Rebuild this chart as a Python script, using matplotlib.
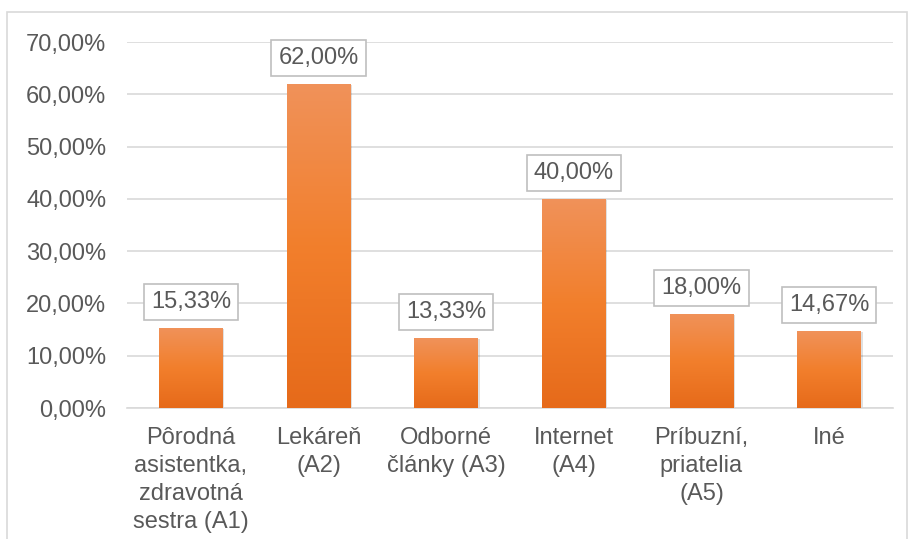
import matplotlib.pyplot as plt
import numpy as np
from matplotlib.colors import LinearSegmentedColormap
from matplotlib.patches import Rectangle

plt.rcParams['font.family'] = ['Liberation Sans', 'DejaVu Sans']

categories = ['Pôrodná\nasistentka,\nzdravotná\nsestra (A1)', 'Lekáreň\n(A2)',
              'Odborné\nčlánky (A3)', 'Internet\n(A4)', 'Príbuzní,\npriatelia\n(A5)', 'Iné']
values = [15.33, 62.00, 13.33, 40.00, 18.00, 14.67]
labels = ['15,33%', '62,00%', '13,33%', '40,00%', '18,00%', '14,67%']
yticks = [0, 10, 20, 30, 40, 50, 60, 70]

text_col = '#595959'
grad = LinearSegmentedColormap.from_list('g', ['#E66A1A', '#F27F2C', '#F0925A'])

fig = plt.figure(figsize=(9.09, 5.39), dpi=100)
ax = fig.add_axes([127 / 909, 1 - 408 / 539, (893 - 127) / 909, (408 - 42) / 539])

# outer chart frame
fig.add_artist(Rectangle((7 / 909, -0.01), 0.99, 1 - 12 / 539 + 0.01,
                         transform=fig.transFigure, fill=False,
                         edgecolor='#D9D9D9', linewidth=1.2))

x = np.arange(len(categories))
bars = ax.bar(x, values, width=0.5, color='none', zorder=3)
for b in bars:
    x0, y0 = b.get_x(), b.get_y()
    w, h = b.get_width(), b.get_height()
    # soft shadow
    ax.add_patch(Rectangle((x0 + 0.012, y0), w, h - 0.2, facecolor='#000000',
                           alpha=0.12, edgecolor='none', zorder=2))
    img = ax.imshow(np.linspace(0, 1, 256).reshape(-1, 1), cmap=grad, aspect='auto',
                    extent=[x0, x0 + w, y0, y0 + h], origin='lower', zorder=3)
    img.set_clip_path(b)

for xi, v, lab in zip(x, values, labels):
    ax.text(xi, v + 5.0, lab, ha='center', va='center', fontsize=17, color=text_col,
            zorder=5,
            bbox=dict(boxstyle='square,pad=0.3', facecolor='white',
                      edgecolor='#BFBFBF', linewidth=1.2))

ax.set_xlim(-0.5, len(categories) - 0.5)
ax.set_ylim(0, 70)
ax.set_yticks(yticks)
ax.set_yticklabels([f'{t},00%' for t in yticks], fontsize=17, color=text_col)
ax.set_xticks(x)
ax.set_xticklabels(categories, fontsize=17, color=text_col, linespacing=1.35)
ax.tick_params(axis='y', length=0, pad=15)
ax.tick_params(axis='x', length=0, pad=14)
ax.grid(axis='y', color='#D9D9D9', linewidth=1.2, zorder=0)
ax.set_axisbelow(True)
for s in ['top', 'right', 'left']:
    ax.spines[s].set_visible(False)
ax.spines['bottom'].set_color('#D9D9D9')
ax.spines['bottom'].set_linewidth(1.2)

fig.savefig('out.png', dpi=100)
